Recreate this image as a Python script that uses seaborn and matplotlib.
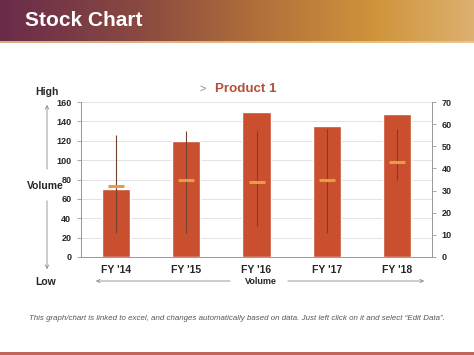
import numpy as np
import pandas as pd
import matplotlib
matplotlib.use("Agg")
import matplotlib.pyplot as plt
from matplotlib.colors import LinearSegmentedColormap
import seaborn as sns

# ---- data ----
categories = ["FY '14", "FY '15", "FY '16", "FY '17", "FY '18"]
volume = [70, 120, 150, 135, 148]
high = [55, 57, 57, 58, 58]
low = [11, 11, 14, 11, 35]
close = [32, 35, 34, 35, 43]
left_ticks = [0, 20, 40, 60, 80, 100, 120, 140, 160]
right_ticks = [0, 10, 20, 30, 40, 50, 60, 70]

sns.set_theme(style="white")
plt.rcParams["font.family"] = ["Liberation Sans", "DejaVu Sans"]

fig = plt.figure(figsize=(4.74, 3.55), dpi=100)

# header gradient
hax = fig.add_axes([0, 1 - 43 / 355, 1, 43 / 355])
cmap = LinearSegmentedColormap.from_list(
    "hdr", [(0.0, "#6a2b4b"), (0.3, "#8a4a40"), (0.55, "#b2703a"),
            (0.8, "#d0953c"), (1.0, "#ddb070")])
grad = np.linspace(0, 1, 400).reshape(1, -1)
hax.imshow(grad, aspect="auto", cmap=cmap, extent=[0, 1, 0, 1])
hax.axhline(0.02, color="#ecc890", lw=1.2)
hax.set_axis_off()
fig.text(25 / 474, 1 - 21 / 355, "Stock Chart", color="white", fontsize=15,
         fontweight="bold", va="center", ha="left")

# bottom stripe
bax = fig.add_axes([0, 0, 1, 3 / 355])
bax.set_facecolor("#c0645a")
bax.set_xticks([]); bax.set_yticks([])
for s in bax.spines.values():
    s.set_visible(False)

# main axes
ax = fig.add_axes([81 / 474, 1 - 257 / 355, 351 / 474, 155 / 355])
df = pd.DataFrame({"cat": categories, "volume": volume})
sns.barplot(data=df, x="cat", y="volume", color="#c94f2e", saturation=1,
            width=0.4, ax=ax, zorder=2)
ax.set_ylim(0, 160)
ax.set_xlim(-0.5, len(categories) - 0.5)
ax.set_yticks(left_ticks)
ax.set_yticklabels([str(t) for t in left_ticks], fontsize=6.5, fontweight="bold")
ax.set_xlabel(""); ax.set_ylabel("")
ax.set_xticks(range(len(categories)))
ax.set_xticklabels(categories, fontsize=7.5, fontweight="bold")
ax.tick_params(axis="x", length=0, pad=6)
ax.set_xticks(np.arange(-0.5, len(categories), 1), minor=True)
ax.tick_params(axis="x", which="minor", length=3, color="#999999", width=0.6)
ax.tick_params(axis="y", length=3, color="#999999", width=0.6, pad=4, left=True)
ax.grid(axis="y", color="#e3e3e3", lw=0.7, zorder=0)
ax.set_axisbelow(True)
ax.spines["top"].set_visible(False)
for side in ["left", "bottom", "right"]:
    ax.spines[side].set_color("#999999")
    ax.spines[side].set_linewidth(0.7)

ax2 = ax.twinx()
ax2.set_ylim(0, 70)
ax2.set_yticks(right_ticks)
ax2.set_yticklabels([str(t) for t in right_ticks], fontsize=6.5, fontweight="bold")
ax2.tick_params(axis="y", length=3, color="#999999", width=0.6, pad=4, right=True)
ax2.grid(False)
for side in ["top", "left", "bottom"]:
    ax2.spines[side].set_visible(False)
ax2.spines["right"].set_color("#999999")
ax2.spines["right"].set_linewidth(0.7)
xs = np.arange(len(categories))
ax2.vlines(xs, low, high, color="#74402f", lw=0.8, zorder=3)
ax2.plot(xs, close, linestyle="none", marker="_", markersize=11.5,
         markeredgewidth=2.2, color="#e0a040", zorder=4)

# product title
fig.text(200 / 474, 1 - 89 / 355, ">", color="#888888", fontsize=8, va="center")
fig.text(215 / 474, 1 - 89 / 355, "Product 1", color="#b4503a", fontsize=9.6,
         fontweight="bold", va="center")

# side labels and arrows
fig.text(47 / 474, 1 - 92 / 355, "High", fontsize=7.5, fontweight="bold",
         ha="center", va="center")
fig.text(45 / 474, 1 - 186 / 355, "Volume", fontsize=7.5, fontweight="bold",
         ha="center", va="center")
fig.text(46 / 474, 1 - 282 / 355, "Low", fontsize=7.5, fontweight="bold",
         ha="center", va="center")
arrow_kw = dict(arrowstyle="->", color="#8a8a8a", lw=0.6, mutation_scale=6)
fig.add_artist(matplotlib.patches.FancyArrowPatch(
    (47 / 474, 1 - 172 / 355), (47 / 474, 1 - 102 / 355),
    transform=fig.transFigure, **arrow_kw))
fig.add_artist(matplotlib.patches.FancyArrowPatch(
    (47 / 474, 1 - 198 / 355), (47 / 474, 1 - 272 / 355),
    transform=fig.transFigure, **arrow_kw))
fig.add_artist(matplotlib.patches.FancyArrowPatch(
    (233 / 474, 1 - 281 / 355), (93 / 474, 1 - 281 / 355),
    transform=fig.transFigure, **arrow_kw))
fig.add_artist(matplotlib.patches.FancyArrowPatch(
    (285 / 474, 1 - 281 / 355), (427 / 474, 1 - 281 / 355),
    transform=fig.transFigure, **arrow_kw))
fig.text(261 / 474, 1 - 281 / 355, "Volume", fontsize=6.5, fontweight="bold",
         ha="center", va="center")

# footnote
fig.text(237 / 474, 1 - 318 / 355,
         "This graph/chart is linked to excel, and changes automatically based on data. "
         "Just left click on it and select \u201cEdit Data\u201d.",
         fontsize=5.7, style="italic", color="#555555", ha="center", va="center")

fig.savefig("out.png", dpi=100)
